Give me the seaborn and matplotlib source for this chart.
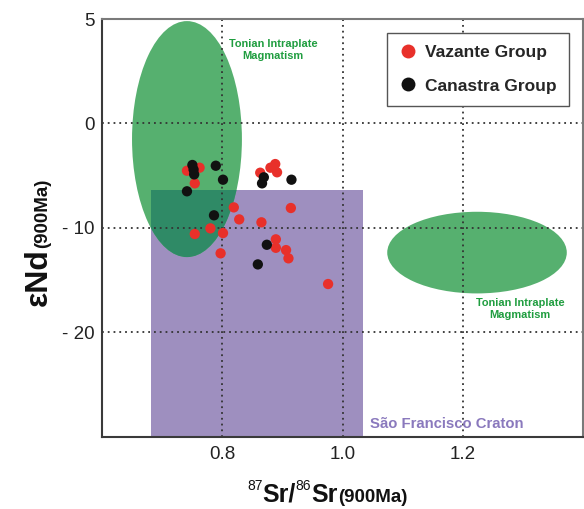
import numpy as np
import pandas as pd
import matplotlib
matplotlib.use("Agg")
import matplotlib.pyplot as plt
import seaborn as sns
from matplotlib.patches import Ellipse, Rectangle
from matplotlib.transforms import IdentityTransform

# ---------------- data ----------------
vazante_sr = [0.741, 0.762, 0.754, 0.863, 0.880, 0.888, 0.891, 0.819, 0.914, 0.828,
              0.865, 0.780, 0.754, 0.801, 0.889, 0.889, 0.906, 0.910, 0.797, 0.976]
vazante_nd = [-4.53, -4.24, -5.74, -4.72, -4.24, -3.89, -4.68, -8.04, -8.10, -9.19,
              -9.47, -10.05, -10.59, -10.50, -11.10, -11.91, -12.13, -12.92, -12.44, -15.38]
canastra_sr = [0.750, 0.752, 0.753, 0.789, 0.801, 0.741, 0.869, 0.866, 0.915, 0.786,
               0.874, 0.859]
canastra_nd = [-3.98, -4.42, -4.88, -4.05, -5.39, -6.50, -5.16, -5.74, -5.39, -8.80,
               -11.62, -13.50]
groups = ["Vazante Group", "Canastra Group"]
group_colors = ["#e8302a", "#111111"]

x_ticks = [0.8, 1.0, 1.2]
x_tick_labels = ["0.8", "1.0", "1.2"]
y_ticks = [10, 0, -10, -20]
y_tick_labels = ["5", "0", "- 10", "- 20"]

# field outlines (data units)
craton_sr = [0.681, 1.034]
craton_nd = [-32.0, -6.42]
tonian_sr = [0.741, 1.224]
tonian_nd = [-1.5, -12.37]
tonian_w_sr = [0.183, 0.299]
tonian_h_nd = [22.6, 7.82]
tonian_label_sr = [0.884, 1.2956]
tonian_label_nd = [7.03, -17.78]
craton_label_sr = 1.0458
craton_label_nd = -28.8

df = pd.DataFrame({
    "sr": vazante_sr + canastra_sr,
    "nd": vazante_nd + canastra_nd,
    "group": [groups[0]] * len(vazante_sr) + [groups[1]] * len(canastra_sr),
})

# ---------------- style ----------------
sns.set_theme(style="white")
plt.rcParams["font.family"] = ["Liberation Sans", "DejaVu Sans"]

W, H = 584, 509
fig = plt.figure(figsize=(W / 100, H / 100), dpi=100)
left, right, top, bottom = 102.3, 582.7, 19.0, 436.7
ax = fig.add_axes([left / W, (H - bottom) / H, (right - left) / W, (bottom - top) / H])

green = "#56b06f"
green_dark = "#2f8a66"
purple = "#9e8fbf"

rect = Rectangle((craton_sr[0], craton_nd[0]), craton_sr[1] - craton_sr[0],
                 craton_nd[1] - craton_nd[0], facecolor=purple, edgecolor="none", zorder=0.5)
ax.add_patch(rect)
for cx, cy, w, h in zip(tonian_sr, tonian_nd, tonian_w_sr, tonian_h_nd):
    e = Ellipse((cx, cy), w, h, facecolor=green, edgecolor="none", zorder=0.6)
    ax.add_patch(e)
    e2 = Ellipse((cx, cy), w, h, facecolor=green_dark, edgecolor="none", zorder=0.7)
    ax.add_patch(e2)
    e2.set_clip_path(rect)

dot = (0, (1.0, 2.2))
for xv in x_ticks:
    ax.axvline(xv, color="#333333", lw=1.3, ls=dot, zorder=1)
for yv in y_ticks[1:]:
    ax.axhline(yv, color="#333333", lw=1.3, ls=dot, zorder=1)

sns.scatterplot(data=df, x="sr", y="nd", hue="group", hue_order=groups,
                palette=group_colors, s=55, linewidth=0, ax=ax, zorder=3, legend=True)

ax.set_xlim(0.6, 1.4)
ax.set_ylim(-30, 10)
ax.set_xticks(x_ticks, x_tick_labels)
ax.set_yticks(y_ticks, y_tick_labels)
ax.tick_params(axis="both", length=0, labelsize=13.5, colors="#222222")
ax.tick_params(axis="x", pad=7)
ax.tick_params(axis="y", pad=5.5)
ax.set_xlabel("")
ax.set_ylabel("")

for side in ["left", "bottom"]:
    ax.spines[side].set_color("#3a3a3a")
    ax.spines[side].set_linewidth(1.5)
for side in ["top", "right"]:
    ax.spines[side].set_color("#7a7a7a")
    ax.spines[side].set_linewidth(1.5)

# field labels
for tx, ty in zip(tonian_label_sr, tonian_label_nd):
    ax.text(tx, ty, "Tonian Intraplate\nMagmatism", ha="center", va="center",
            color="#1f9d3f", fontsize=7.9, fontweight="bold", linespacing=1.15, zorder=4)
ax.text(craton_label_sr, craton_label_nd, "São Francisco Craton", ha="left", va="center",
        color="#8a79bd", fontsize=10.7, fontweight="bold", zorder=4)

# legend
handles, labels = ax.get_legend_handles_labels()
leg = ax.legend(handles, labels, loc="upper right", frameon=True, fancybox=False,
                edgecolor="#555555", framealpha=1, prop={"weight": "bold", "size": 12.5},
                markerscale=1.35, handlelength=1.0, handletextpad=0.5, borderpad=0.7,
                labelspacing=1.05, borderaxespad=0.8)
leg.get_frame().set_linewidth(1.0)
leg.set_zorder(5)


# ---------------- composed axis labels ----------------
def chain(pieces, along_center, baseline, vertical=False):
    r = fig.canvas.get_renderer()
    texts, sizes = [], []
    for s, size, rise, weight in pieces:
        if vertical:
            t = fig.text(0, 0, s, rotation=90, rotation_mode="anchor", ha="left",
                         va="baseline", fontsize=size, fontweight=weight,
                         color="#111111", transform=IdentityTransform())
        else:
            t = fig.text(0, 0, s, ha="left", va="baseline", fontsize=size,
                         fontweight=weight, color="#111111", transform=IdentityTransform())
        bb = t.get_window_extent(r)
        texts.append((t, rise))
        sizes.append(bb.height if vertical else bb.width)
    pos = along_center - sum(sizes) / 2
    for (t, rise), sz in zip(texts, sizes):
        if vertical:
            t.set_position((baseline - rise, pos))
        else:
            t.set_position((pos, baseline + rise))
        pos += sz


fig.canvas.draw()
chain([("87", 10, 12, "normal"), ("Sr/", 18, 0, "bold"), ("86", 10, 12, "normal"),
       ("Sr", 18, 0, "bold"), ("(900Ma)", 13.5, 0, "bold")],
      along_center=327, baseline=H - 502)
chain([("εNd", 23, 0, "bold"), ("(900Ma)", 13.5, 0, "bold")], along_center=H - 242,
      baseline=47, vertical=True)

fig.savefig("out.png", dpi=100)
